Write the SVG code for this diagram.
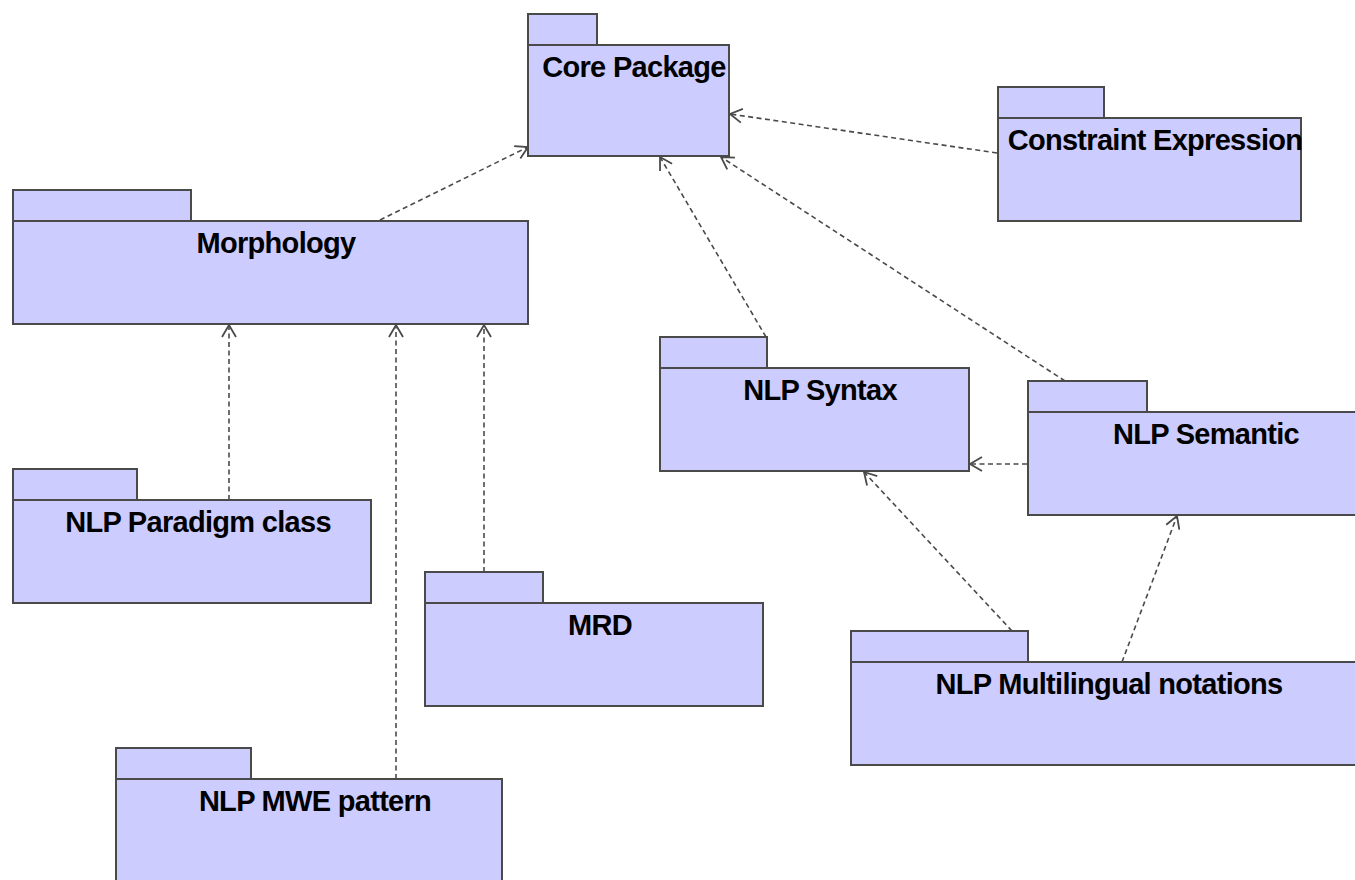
<svg xmlns="http://www.w3.org/2000/svg" width="1355" height="880" viewBox="0 0 1355 880">
  <style>
    .pkg rect { fill: #ccccff; stroke: #4a4a4a; stroke-width: 2; }
    .pkg text { font-family: "Liberation Sans", Arial, sans-serif; font-weight: bold; font-size: 29px; letter-spacing: -0.7px; fill: #000; text-anchor: middle; }
    .dep { fill: none; stroke: #4a4a4a; stroke-width: 1.6; stroke-dasharray: 5 3.5; marker-end: url(#open); }
  </style>
  <defs>
    <marker id="open" markerUnits="userSpaceOnUse" markerWidth="20" markerHeight="20" refX="14" refY="8" orient="auto" viewBox="0 0 20 16">
      <path d="M2,1 L14,8 L2,15" fill="none" stroke="#4a4a4a" stroke-width="1.8"/>
    </marker>
  </defs>
  <rect width="1355" height="880" fill="#ffffff"/>

  <!-- dependency connectors -->
  <g id="connectors">
    <line class="dep" x1="380" y1="220" x2="528" y2="147"/>
    <line class="dep" x1="997" y1="153" x2="730" y2="114"/>
    <line class="dep" x1="766" y1="337" x2="660" y2="157"/>
    <line class="dep" x1="1065" y1="381" x2="721" y2="157"/>
    <line class="dep" x1="1027" y1="464" x2="970" y2="464"/>
    <line class="dep" x1="1012" y1="631" x2="864" y2="472"/>
    <line class="dep" x1="1122" y1="662" x2="1177" y2="516"/>
    <line class="dep" x1="229" y1="500" x2="229" y2="325"/>
    <line class="dep" x1="484" y1="572" x2="484" y2="325"/>
    <line class="dep" x1="396" y1="779" x2="396" y2="325"/>
  </g>

  <g id="core-package" class="pkg">
    <rect x="528" y="14" width="69" height="31"/>
    <rect x="528" y="45" width="201" height="111"/>
    <text x="634" y="77">Core Package</text>
  </g>

  <g id="constraint-expression" class="pkg">
    <rect x="998" y="87" width="106" height="31"/>
    <rect x="998" y="118" width="303" height="103"/>
    <text x="1155" y="150">Constraint Expression</text>
  </g>

  <g id="morphology" class="pkg">
    <rect x="13" y="190" width="178" height="31"/>
    <rect x="13" y="221" width="515" height="103"/>
    <text x="276" y="253">Morphology</text>
  </g>

  <g id="nlp-syntax" class="pkg">
    <rect x="660" y="337" width="107" height="31"/>
    <rect x="660" y="368" width="309" height="103"/>
    <text x="820" y="400">NLP Syntax</text>
  </g>

  <g id="nlp-semantic" class="pkg">
    <rect x="1028" y="381" width="119" height="31"/>
    <rect x="1028" y="412" width="354" height="103"/>
    <text x="1206" y="444">NLP Semantic</text>
  </g>

  <g id="nlp-paradigm-class" class="pkg">
    <rect x="13" y="469" width="124" height="31"/>
    <rect x="13" y="500" width="358" height="103"/>
    <text x="198" y="532">NLP Paradigm class</text>
  </g>

  <g id="mrd" class="pkg">
    <rect x="425" y="572" width="118" height="31"/>
    <rect x="425" y="603" width="338" height="103"/>
    <text x="600" y="635">MRD</text>
  </g>

  <g id="nlp-multilingual-notations" class="pkg">
    <rect x="851" y="631" width="177" height="31"/>
    <rect x="851" y="662" width="515" height="103"/>
    <text x="1109" y="694">NLP Multilingual notations</text>
  </g>

  <g id="nlp-mwe-pattern" class="pkg">
    <rect x="116" y="748" width="135" height="31"/>
    <rect x="116" y="779" width="386" height="110"/>
    <text x="315" y="811">NLP MWE pattern</text>
  </g>
</svg>
